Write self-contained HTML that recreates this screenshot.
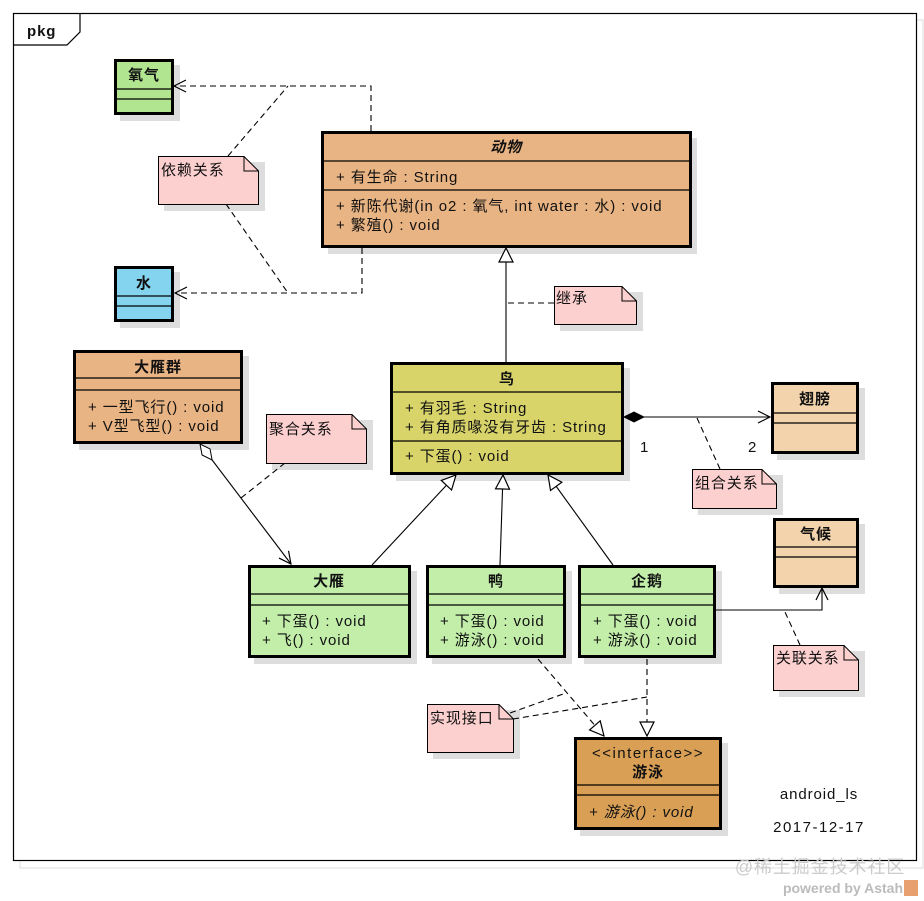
<!DOCTYPE html>
<html><head><meta charset="utf-8"><style>
html,body{margin:0;padding:0;background:#fff;width:924px;height:901px;overflow:hidden}
svg text{font-family:"Liberation Sans","Noto Sans CJK SC",sans-serif;font-size:15px;fill:#111;letter-spacing:0.9px}
.b{font-weight:bold}
</style></head><body>
<svg width="924" height="901" viewBox="0 0 924 901" xmlns="http://www.w3.org/2000/svg">
<defs>
<marker id="open" viewBox="0 0 14 14" refX="13" refY="7" markerWidth="14" markerHeight="14" markerUnits="userSpaceOnUse" orient="auto"><path d="M1,1 L13,7 L1,13" fill="none" stroke="#000" stroke-width="1.2"/></marker>
<marker id="tri" viewBox="0 0 16 16" refX="15" refY="8" markerWidth="16" markerHeight="16" markerUnits="userSpaceOnUse" orient="auto"><path d="M1,1 L15,8 L1,15 Z" fill="#fff" stroke="#000" stroke-width="1.2"/></marker>
<marker id="dia" viewBox="0 0 22 12" refX="1" refY="6" markerWidth="22" markerHeight="12" markerUnits="userSpaceOnUse" orient="auto"><path d="M1,6 L11,1 L21,6 L11,11 Z" fill="#000" stroke="#000"/></marker>
<marker id="hdia" viewBox="0 0 22 12" refX="1" refY="6" markerWidth="22" markerHeight="12" markerUnits="userSpaceOnUse" orient="auto"><path d="M1,6 L11,1 L21,6 L11,11 Z" fill="#fff" stroke="#000"/></marker>
</defs>
<rect x="20" y="20" width="903" height="848" fill="none" stroke="#ddd" stroke-width="1"/>
<rect x="13.5" y="13.5" width="903" height="847" fill="#fff" stroke="#000" stroke-width="1.2"/>
<path d="M13.5,45 L67,45 L80,32 L80,13.5" fill="none" stroke="#000" stroke-width="1.2"/>
<text x="27" y="36" class="b" style="font-size:15px">pkg</text>

<g fill="#ddd">
<rect x="120" y="65" width="60" height="56"/><rect x="120" y="272" width="60" height="56"/>
<rect x="328" y="138" width="369" height="116"/><rect x="79" y="356" width="170" height="94"/>
<rect x="396" y="368" width="234" height="113"/><rect x="777" y="388" width="88" height="72"/>
<rect x="779" y="524" width="86" height="70"/><rect x="254" y="571" width="163" height="93"/>
<rect x="432" y="571" width="140" height="93"/><rect x="584" y="571" width="138" height="93"/>
<rect x="580" y="743" width="148" height="93"/>
<rect x="164" y="162" width="101" height="49"/><rect x="560" y="292" width="83" height="39"/>
<rect x="272" y="420" width="101" height="50"/><rect x="698" y="475" width="85" height="40"/>
<rect x="779" y="651" width="86" height="46"/><rect x="433" y="710" width="87" height="49"/>
</g>

<g fill="none" stroke="#000" stroke-width="1.1">
<path d="M371,131 L371,86 L174,86" stroke-dasharray="6,4" marker-end="url(#open)"/>
<path d="M362,248 L362,293 L175,293" stroke-dasharray="6,4" marker-end="url(#open)"/>
<path d="M228,156 L288,86 M226,204 L288,293" stroke-dasharray="6,4"/>
<path d="M506,362 L506,248" marker-end="url(#tri)"/>
<path d="M554,303 L506,303" stroke-dasharray="6,4"/>
<path d="M624,417 L770,417" marker-start="url(#dia)" marker-end="url(#open)"/>
<path d="M720,469 L697,418" stroke-dasharray="6,4"/>
<path d="M200,444 L291,564" marker-start="url(#hdia)" marker-end="url(#open)"/>
<path d="M285,463 L241,498" stroke-dasharray="6,4"/>
<path d="M372,565 L456,475" marker-end="url(#tri)"/>
<path d="M500,565 L503,475" marker-end="url(#tri)"/>
<path d="M613,565 L548,475" marker-end="url(#tri)"/>
<path d="M716,610 L822,610 L822,588" marker-end="url(#open)"/>
<path d="M800,645 L785,612" stroke-dasharray="6,4"/>
<path d="M538,659 L604,736" stroke-dasharray="6,4" marker-end="url(#tri)"/>
<path d="M647,659 L647,736" stroke-dasharray="6,4" marker-end="url(#tri)"/>
<path d="M510,713 L566,693 M513,719 L647,697" stroke-dasharray="6,4"/>
</g>
<text x="640" y="452">1</text><text x="748" y="452">2</text>

<g stroke="#000">
<rect x="115.5" y="60.5" width="57" height="53" fill="#b1e58f" stroke-width="3"/>
<path d="M116,89 H172 M116,99 H172" stroke-width="1.2"/>
<rect x="115.5" y="267.5" width="57" height="53" fill="#85d4ef" stroke-width="3"/>
<path d="M116,296 H172 M116,306 H172" stroke-width="1.2"/>
<rect x="322.5" y="132.5" width="368" height="114" fill="#e9b483" stroke-width="3"/>
<path d="M323,161 H690 M323,190 H690" stroke-width="1.2"/>
<rect x="74.5" y="351.5" width="167" height="91" fill="#e9b483" stroke-width="3"/>
<path d="M75,378 H241 M75,390 H241" stroke-width="1.2"/>
<rect x="391.5" y="363.5" width="231" height="110" fill="#d8d46a" stroke-width="3"/>
<path d="M392,392 H622 M392,441 H622" stroke-width="1.2"/>
<rect x="772.5" y="383.5" width="85" height="69" fill="#f2d3ac" stroke-width="3"/>
<path d="M773,413 H857 M773,423 H857" stroke-width="1.2"/>
<rect x="774.5" y="519.5" width="83" height="67" fill="#f2d3ac" stroke-width="3"/>
<path d="M775,547 H857 M775,557 H857" stroke-width="1.2"/>
<rect x="249.5" y="566.5" width="160" height="90" fill="#c2eeaa" stroke-width="3"/>
<path d="M250,594 H409 M250,605 H409" stroke-width="1.2"/>
<rect x="427.5" y="566.5" width="137" height="90" fill="#c2eeaa" stroke-width="3"/>
<path d="M428,594 H564 M428,605 H564" stroke-width="1.2"/>
<rect x="579.5" y="566.5" width="135" height="90" fill="#c2eeaa" stroke-width="3"/>
<path d="M580,594 H714 M580,605 H714" stroke-width="1.2"/>
<rect x="575.5" y="738.5" width="145" height="90" fill="#d9a055" stroke-width="3"/>
<path d="M576,785 H720 M576,795 H720" stroke-width="1.2"/>
</g>
<g fill="#fdd0d0" stroke="#000" stroke-width="1">
<path d="M158.5,156.5 H244 L258.5,171 V204.5 H158.5 Z"/><path d="M244,156.5 V171 H258.5" fill="none"/>
<path d="M554.5,286.5 H622 L636.5,301 V324.5 H554.5 Z"/><path d="M622,286.5 V301 H636.5" fill="none"/>
<path d="M266.5,414.5 H352 L366.5,429 V463.5 H266.5 Z"/><path d="M352,414.5 V429 H366.5" fill="none"/>
<path d="M692.5,469.5 H762 L776.5,484 V508.5 H692.5 Z"/><path d="M762,469.5 V484 H776.5" fill="none"/>
<path d="M773.5,645.5 H844 L858.5,660 V690.5 H773.5 Z"/><path d="M844,645.5 V660 H858.5" fill="none"/>
<path d="M427.5,704.5 H499 L513.5,719 V752.5 H427.5 Z"/><path d="M499,704.5 V719 H513.5" fill="none"/>
</g>

<text x="144" y="80" class="b" text-anchor="middle">氧气</text>
<text x="144" y="288" class="b" text-anchor="middle">水</text>
<text x="506" y="152" class="b" text-anchor="middle" font-style="italic">动物</text>
<text x="336" y="182">+ 有生命 : String</text>
<text x="336" y="211">+ 新陈代谢(in o2 : 氧气, int water : 水) : void</text>
<text x="336" y="230">+ 繁殖() : void</text>
<text x="158" y="372" class="b" text-anchor="middle">大雁群</text>
<text x="88" y="412">+ 一型飞行() : void</text>
<text x="88" y="431">+ V型飞型() : void</text>
<text x="507" y="384" class="b" text-anchor="middle">鸟</text>
<text x="405" y="413">+ 有羽毛 : String</text>
<text x="405" y="432">+ 有角质喙没有牙齿 : String</text>
<text x="405" y="461">+ 下蛋() : void</text>
<text x="815" y="404" class="b" text-anchor="middle">翅膀</text>
<text x="816" y="539" class="b" text-anchor="middle">气候</text>
<text x="329" y="586" class="b" text-anchor="middle">大雁</text>
<text x="262" y="626">+ 下蛋() : void</text>
<text x="262" y="645">+ 飞() : void</text>
<text x="496" y="586" class="b" text-anchor="middle">鸭</text>
<text x="440" y="626">+ 下蛋() : void</text>
<text x="440" y="645">+ 游泳() : void</text>
<text x="647" y="586" class="b" text-anchor="middle">企鹅</text>
<text x="593" y="626">+ 下蛋() : void</text>
<text x="593" y="645">+ 游泳() : void</text>
<text x="648" y="758" text-anchor="middle" style="letter-spacing:1.5px">&lt;&lt;interface&gt;&gt;</text>
<text x="648" y="777" class="b" text-anchor="middle">游泳</text>
<text x="589" y="817" font-style="italic">+ 游泳() : void</text>
<text x="161" y="175">依赖关系</text>
<text x="556" y="303">继承</text>
<text x="269" y="434">聚合关系</text>
<text x="695" y="488">组合关系</text>
<text x="776" y="663">关联关系</text>
<text x="430" y="723">实现接口</text>
<text x="819" y="799" text-anchor="middle">android_ls</text>
<text x="819" y="832" text-anchor="middle" style="letter-spacing:1.5px">2017-12-17</text>
<text x="820" y="873" text-anchor="middle" style="font-size:18px;fill:#ccc">@稀土掘金技术社区</text>
<text x="903" y="893" text-anchor="end" class="b" style="font-size:14px;fill:#bbb;letter-spacing:0">powered by Astah</text>
<rect x="904" y="880" width="14" height="16" fill="#e8a070"/>
</svg>
</body></html>
